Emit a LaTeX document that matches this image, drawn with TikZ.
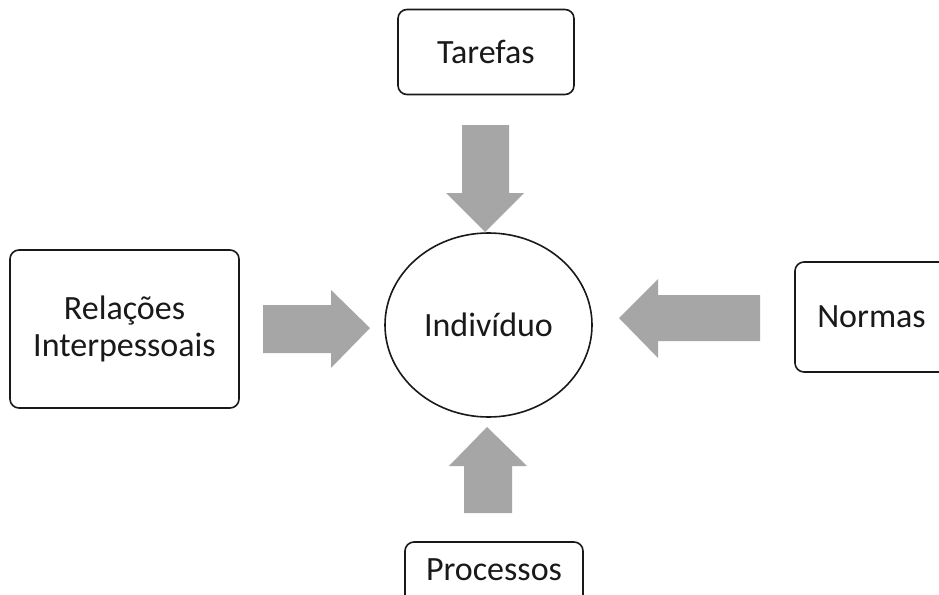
\documentclass[tikz,border=0pt]{standalone}
\usepackage{fontspec}
\setmainfont{Carlito}
\usetikzlibrary{shapes.geometric}
\definecolor{arrowgray}{HTML}{A6A6A6}
\tikzset{
  box/.style={draw=black!90, line width=1.6pt, rounded corners=9pt, fill=white, inner sep=0pt, align=center},
  lbl/.style={font=\fontsize{34}{37}\selectfont, text=black!90, align=center},
  blockarrow/.style={fill=arrowgray, draw=none}
}
\begin{document}
\begin{tikzpicture}[x=1pt,y=-1pt]
\useasboundingbox (0,0) rectangle (939,594);
\clip (0,0) rectangle (939,594);
\fill[white] (0,0) rectangle (939,594);
% boxes
\node[box, minimum width=176pt, minimum height=85pt] (tarefas) at (486,52) {};
\node[lbl] at (tarefas.center) {Tarefas};
\node[box, minimum width=229pt, minimum height=158pt] (relacoes) at (124.5,329) {};
\node[lbl] at (relacoes.center) {Relações\\Interpessoais};
\node[box, minimum width=153pt, minimum height=110pt] (normas) at (871.5,317) {};
\node[lbl] at (normas.center) {Normas};
\node[box, minimum width=178pt, minimum height=62pt] (processos) at (494,573) {};
\node[lbl] at (494,570) {Processos};
% ellipse
\node[ellipse, draw=black!90, line width=1.6pt, minimum width=207pt, minimum height=184pt, inner sep=0pt] (ind) at (488.5,325) {};
\node[lbl] at (ind.center) {Indivíduo};
% block arrows
\fill[blockarrow] (462,125) -- (509,125) -- (509,193) -- (524,193) -- (485,232) -- (446,193) -- (462,193) -- cycle;
\fill[blockarrow] (263,305) -- (331,305) -- (331,290) -- (370,328) -- (331,368) -- (331,353) -- (263,353) -- cycle;
\fill[blockarrow] (760,295) -- (658,295) -- (658,279) -- (619,318) -- (658,358) -- (658,341) -- (760,341) -- cycle;
\fill[blockarrow] (464,513) -- (464,466) -- (449,466) -- (487,427) -- (527,466) -- (512,466) -- (512,513) -- cycle;
\end{tikzpicture}
\end{document}
